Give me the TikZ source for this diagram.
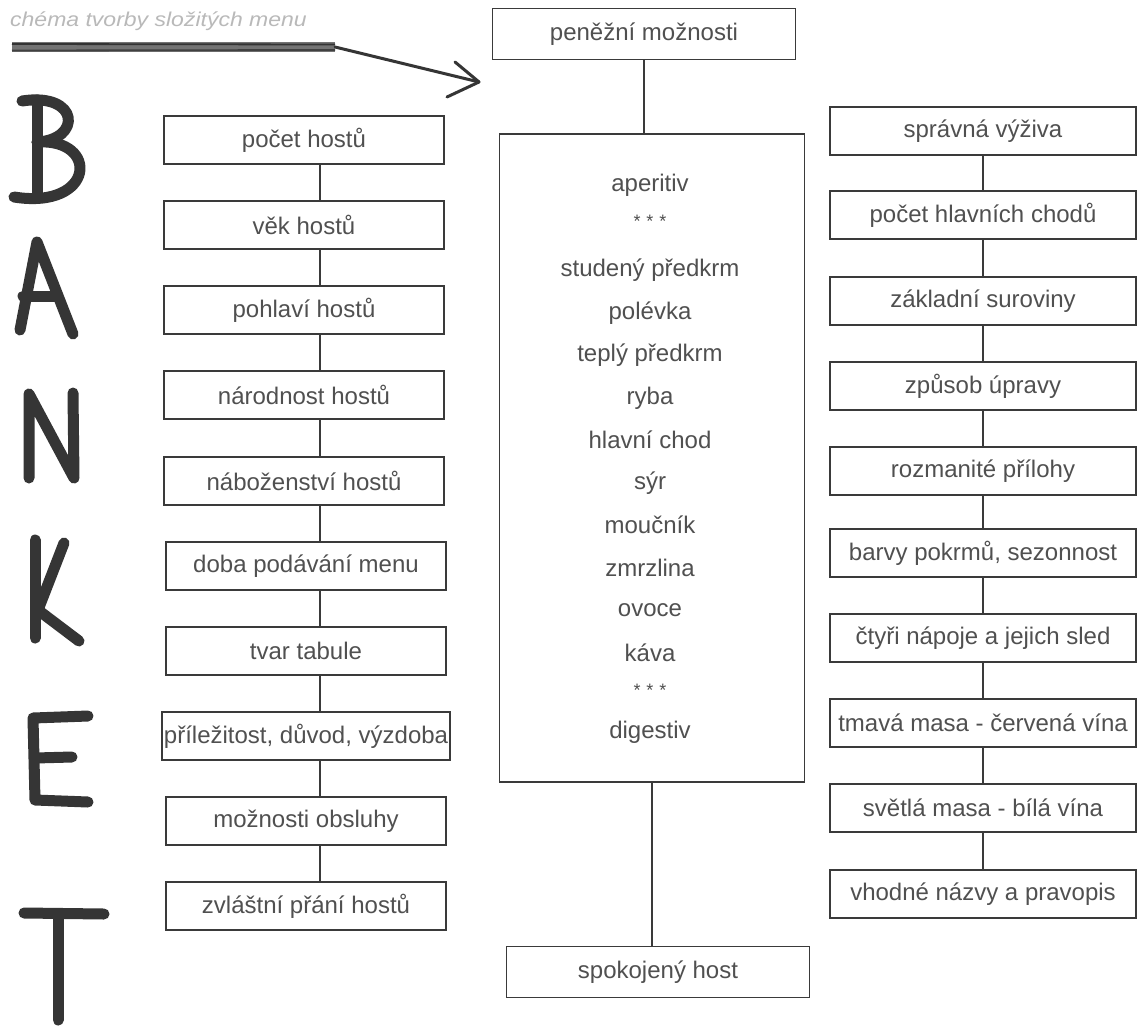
\documentclass[tikz,border=0pt]{standalone}
\usepackage{fontspec}
\setmainfont{Liberation Sans}
\usetikzlibrary{calc}
\definecolor{ink}{HTML}{3A3A3A}
\definecolor{txt}{HTML}{505050}
\definecolor{hand}{HTML}{353535}
\begin{document}
\begin{tikzpicture}[x=1pt,y=-1pt,
 box/.style={draw=ink, line width=1.3pt, rectangle, inner xsep=2pt, inner ysep=0pt, minimum height=48pt, text=txt, font=\fontsize{24}{28}\selectfont},
 lbox/.style={box, minimum width=280pt},
 rbox/.style={box, minimum width=306pt},
 cbox/.style={box, minimum width=303pt, minimum height=51pt},
 link/.style={draw=ink, line width=1.1pt},
 menuitem/.style={text=txt, font=\fontsize{24}{28}\selectfont, inner sep=0pt},
 stars/.style={text=txt, font=\fontsize{18}{20}\selectfont, inner sep=0pt},
 letter/.style={draw=hand, line width=11pt, line cap=round, line join=round},
]
\fill[white] (0,0) rectangle (1139,1025);
\useasboundingbox (0,0) rectangle (1139,1025);

% title and underline with arrow
\node[anchor=base west, text=gray!55, font=\fontsize{20}{22}\selectfont\itshape, inner sep=0pt] (title) at (10,27) {\scalebox{1.15}[1]{chéma tvorby složitých menu}};
\coordinate (barL) at (12,47);
\coordinate (barR) at (335,47);
\draw[line width=10pt, draw=black!55] (barL) -- (barR);
\draw[line width=1.8pt, draw=black!80] (12,44) -- (335,44.5);
\draw[line width=1.8pt, draw=black!75] (12,50.5) -- (335,50);
\coordinate (tip) at (479,82);
\draw[line width=3pt, draw=hand, line cap=round] (barR) -- (tip);
\draw[line width=3pt, draw=hand, line cap=round] (tip) -- ++(-24,-20);
\draw[line width=3pt, draw=hand, line cap=round] (tip) -- ++(-32,15);

% BANKET letters
\draw[letter] (37,100) -- (37,193);
\draw[letter] (22,101) .. controls (80,92) and (82,140) .. (37,142);
\draw[letter] (37,142) .. controls (100,138) and (95,210) .. (14,197);
\draw[letter] (20,330) -- (37,242) -- (73,334);
\draw[letter] (23,296) -- (55,296);
\draw[letter] (29,478) -- (29,394) -- (74,478) -- (73,393);
\draw[letter] (35,540) -- (35,638);
\draw[letter] (64,543) -- (38,610) -- (79,641);
\draw[letter] (88,716) -- (33,718) -- (35,800) -- (88,802);
\draw[letter] (35,758) -- (72,757);
\draw[letter] (24,913) -- (104,914);
\draw[letter] (58,914) -- (58,1020);

% left column
\node[lbox] (L1) at (304,140) {počet hostů};
\node[lbox] (L2) at (304,225) {věk hostů};
\node[lbox] (L3) at (304,310) {pohlaví hostů};
\node[lbox] (L4) at (304,395) {národnost hostů};
\node[lbox] (L5) at (304,481) {náboženství hostů};
\node[lbox] (L6) at (306,566) {doba podávání menu};
\node[lbox] (L7) at (306,651) {tvar tabule};
\node[lbox] (L8) at (306,736) {příležitost, důvod, výzdoba};
\node[lbox] (L9) at (306,821) {možnosti obsluhy};
\node[lbox] (L10) at (306,906) {zvláštní přání hostů};
\coordinate (lc) at (320,0);
\foreach \a/\b in {L1/L2,L2/L3,L3/L4,L4/L5,L5/L6,L6/L7,L7/L8,L8/L9,L9/L10}
  \draw[link] (\a.south -| lc) -- (\b.north -| lc);

% right column
\node[rbox] (R1) at (983,131) {správná výživa};
\node[rbox] (R2) at (983,215) {počet hlavních chodů};
\node[rbox] (R3) at (983,301) {základní suroviny};
\node[rbox] (R4) at (983,386) {způsob úpravy};
\node[rbox] (R5) at (983,471) {rozmanité přílohy};
\node[rbox] (R6) at (983,553) {barvy pokrmů, sezonnost};
\node[rbox] (R7) at (983,638) {čtyři nápoje a jejich sled};
\node[rbox] (R8) at (983,723) {tmavá masa - červená vína};
\node[rbox] (R9) at (983,808) {světlá masa - bílá vína};
\node[rbox] (R10) at (983,894) {vhodné názvy a pravopis};
\foreach \a/\b in {R1/R2,R2/R3,R3/R4,R4/R5,R5/R6,R6/R7,R7/R8,R8/R9,R9/R10}
  \draw[link] (\a.south) -- (\b.north);

% middle
\node[cbox] (pen) at (644,34) {peněžní možnosti};
\node[draw=ink, line width=1.3pt, minimum width=305pt, minimum height=648pt, inner sep=0pt] (menu) at (652,458) {};
\node[cbox] (spok) at (658,972) {spokojený host};
\draw[link] (pen.south) -- (pen.south |- menu.north);
\draw[link] (menu.south) -- (menu.south |- spok.north);

\node[menuitem] (m1) at (650,185) {aperitiv};
\node[stars] (s1) at (650,221) {*\hspace{6pt}*\hspace{6pt}*};
\node[menuitem] (m2) at (650,270) {studený předkrm};
\node[menuitem] (m3) at (650,313) {polévka};
\node[menuitem] (m4) at (650,355) {teplý předkrm};
\node[menuitem] (m5) at (650,398) {ryba};
\node[menuitem] (m6) at (650,440) {hlavní chod};
\node[menuitem] (m7) at (650,483) {sýr};
\node[menuitem] (m8) at (650,525) {moučník};
\node[menuitem] (m9) at (650,568) {zmrzlina};
\node[menuitem] (m10) at (650,610) {ovoce};
\node[menuitem] (m11) at (650,653) {káva};
\node[stars] (s2) at (650,690) {*\hspace{6pt}*\hspace{6pt}*};
\node[menuitem] (m12) at (650,732) {digestiv};
\end{tikzpicture}
\end{document}
